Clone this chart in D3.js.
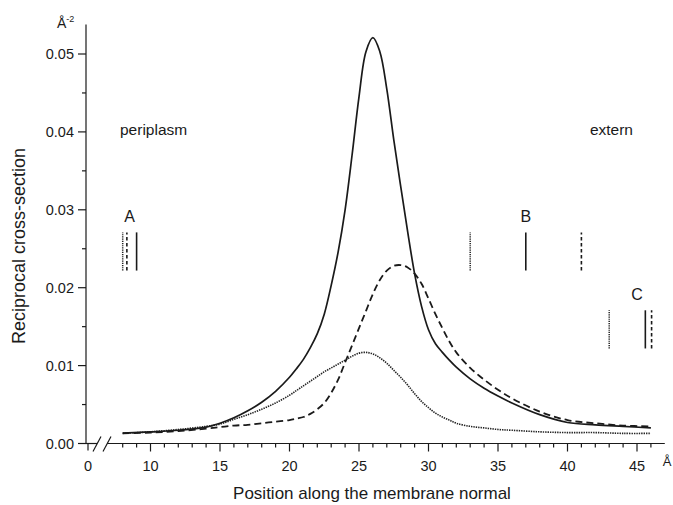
<!DOCTYPE html>
<html>
<head>
<meta charset="utf-8">
<script src="https://cdn.jsdelivr.net/npm/d3@7"></script>
<style>
  html, body { margin: 0; padding: 0; background: #fff; }
  svg { display: block; font-family: "Liberation Sans", Arial, Helvetica, sans-serif; }
</style>
</head>
<body>
<svg id="chart" width="673" height="505"></svg>
<script>
// Position along the membrane normal (Å)
const positions = [8, 10, 12, 14, 15, 16, 17, 18, 19, 20, 20.5, 21, 21.5, 22, 22.5, 23, 23.5, 24, 24.5,
  25, 25.5, 26, 26.5, 27, 27.5, 28, 28.5, 29, 29.5, 30, 30.5, 31, 31.5, 32, 33, 34, 35, 36, 38, 40,
  42, 44, 46];

// Reciprocal cross-section (Å^-2) for the three profiles
const solidProfile = [0.00135, 0.0015, 0.0017, 0.0021, 0.0026, 0.0033, 0.0042, 0.0053, 0.0067, 0.0085,
  0.0096, 0.0108, 0.0123, 0.0141, 0.0166, 0.0203, 0.0246, 0.0300, 0.0370, 0.0445, 0.0503, 0.0521,
  0.0503, 0.0455, 0.0390, 0.0330, 0.0272, 0.0218, 0.0176, 0.0146, 0.0128, 0.0117, 0.0107, 0.0098,
  0.0083, 0.0071, 0.0061, 0.0052, 0.0037, 0.0027, 0.0024, 0.0022, 0.0020];
const dashedProfile = [0.0013, 0.0014, 0.0016, 0.0019, 0.0021, 0.0023, 0.0024, 0.0026, 0.0028, 0.0030,
  0.0032, 0.0034, 0.0038, 0.0044, 0.0052, 0.0065, 0.0082, 0.0104, 0.0126, 0.0148, 0.0170, 0.0192,
  0.0210, 0.0222, 0.0228, 0.0229, 0.0226, 0.0218, 0.0205, 0.0186, 0.0166, 0.0148, 0.0131, 0.0117,
  0.0097, 0.0082, 0.0069, 0.0058, 0.0041, 0.0030, 0.0026, 0.0023, 0.0022];
const dottedProfile = [0.0013, 0.0015, 0.0018, 0.0022, 0.0025, 0.0031, 0.0037, 0.0044, 0.0052, 0.0062,
  0.0068, 0.0074, 0.0080, 0.0086, 0.0092, 0.0097, 0.0102, 0.0107, 0.0112, 0.0116, 0.0117, 0.0115,
  0.0110, 0.0103, 0.0094, 0.0085, 0.0075, 0.0064, 0.0054, 0.0046, 0.0039, 0.0034, 0.0030, 0.0026,
  0.0022, 0.0020, 0.0018, 0.0017, 0.0015, 0.0014, 0.0014, 0.0013, 0.0013];

// Reference markers A, B, C (positions in Å, extent in Å^-2)
const markerLabels = ["A", "B", "C"];
const markerSolid = [9.0, 37.0, 45.6];
const markerDashed = [8.3, 41.0, 46.05];
const markerDotted = [8.0, 33.0, 43.0];
const markerLow = [0.0222, 0.0222, 0.0122];
const markerHigh = [0.0271, 0.0271, 0.0171];
const markerLabelX = [8.5, 37.0, 45.0];
const markerLabelY = [0.0284, 0.0284, 0.0184];

// Axis ticks
const xMajorTicks = [10, 15, 20, 25, 30, 35, 40, 45];
const xMinorTicks = [8, 9, 11, 12, 13, 14, 16, 17, 18, 19, 21, 22, 23, 24, 26, 27, 28, 29, 31, 32, 33, 34,
  36, 37, 38, 39, 41, 42, 43, 44, 46];
const yMajorTicks = [0, 0.01, 0.02, 0.03, 0.04, 0.05];
const yMinorTicks = [0.005, 0.015, 0.025, 0.035, 0.045];

const svg = d3.select("#chart");
const ink = "#1a1a1a";

// Broken x axis: 0 sits at the y axis, the continuous part starts near 7 Å
const x = d3.scaleLinear().domain([0, 7, 47]).range([88, 108.8, 664.8]);
const y = d3.scaleLinear().domain([0, 0.05]).range([443.5, 54]);

const axisX0 = 86;      // y axis position
const axisY0 = y(0);

// ---- y axis
const gy = svg.append("g").attr("stroke", ink).attr("stroke-width", 1.2);
gy.append("line").attr("x1", axisX0).attr("x2", axisX0).attr("y1", axisY0 + 0.5).attr("y2", y(0.0538));
gy.selectAll(".ymaj").data(yMajorTicks).join("line")
  .attr("x1", axisX0 - 8).attr("x2", axisX0).attr("y1", d => y(d)).attr("y2", d => y(d));
gy.selectAll(".ymin").data(yMinorTicks).join("line")
  .attr("x1", axisX0 - 4).attr("x2", axisX0).attr("y1", d => y(d)).attr("y2", d => y(d));
svg.append("g").selectAll("text").data(yMajorTicks).join("text")
  .attr("x", axisX0 - 12).attr("y", d => y(d)).attr("dy", "0.36em")
  .attr("text-anchor", "end").attr("font-size", 14.5).attr("fill", ink)
  .text(d => d3.format(".2f")(d));

// ---- x axis with break
const gx = svg.append("g").attr("stroke", ink).attr("stroke-width", 1.2);
gx.append("line").attr("x1", axisX0).attr("x2", 97).attr("y1", axisY0).attr("y2", axisY0);
gx.append("line").attr("x1", 107).attr("x2", x(47)).attr("y1", axisY0).attr("y2", axisY0);
[97, 107].forEach(bx => {
  gx.append("line").attr("x1", bx - 4).attr("y1", axisY0 + 8).attr("x2", bx + 4).attr("y2", axisY0 - 7);
});
gx.append("line").attr("x1", x(0)).attr("x2", x(0)).attr("y1", axisY0).attr("y2", axisY0 + 7);
gx.selectAll(".xmaj").data(xMajorTicks).join("line")
  .attr("x1", d => x(d)).attr("x2", d => x(d)).attr("y1", axisY0).attr("y2", axisY0 + 8);
gx.selectAll(".xmin").data(xMinorTicks).join("line")
  .attr("x1", d => x(d)).attr("x2", d => x(d)).attr("y1", axisY0).attr("y2", axisY0 + 4);
svg.append("g").selectAll("text").data([0].concat(xMajorTicks)).join("text")
  .attr("x", d => x(d)).attr("y", axisY0 + 27)
  .attr("text-anchor", "middle").attr("font-size", 14.5).attr("fill", ink)
  .text(d => d);
svg.append("text").attr("x", 667).attr("y", axisY0 + 22).attr("text-anchor", "middle")
  .attr("font-size", 13).attr("fill", ink).text("Å");

// unit label on the y axis
const unit = svg.append("text").attr("x", 57).attr("y", 28).attr("font-size", 14).attr("fill", ink);
unit.append("tspan").text("Å");
unit.append("tspan").attr("font-size", 9).attr("dy", -6).text("-2");

// axis titles
svg.append("text").attr("x", 372).attr("y", 499).attr("text-anchor", "middle")
  .attr("font-size", 17).attr("fill", ink).text("Position along the membrane normal");
svg.append("text").attr("transform", "translate(25,246) rotate(-90)").attr("text-anchor", "middle")
  .attr("font-size", 18).attr("fill", ink).text("Reciprocal cross-section");

// region names
svg.append("text").attr("x", 120).attr("y", 135).attr("font-size", 15.5).attr("fill", ink).text("periplasm");
svg.append("text").attr("x", 633).attr("y", 135).attr("text-anchor", "end")
  .attr("font-size", 15.5).attr("fill", ink).text("extern");

// ---- profiles
const line = (vals) => d3.line()
  .x((d, i) => x(positions[i]))
  .y(d => y(d))
  .curve(d3.curveCatmullRom.alpha(0.5))(vals);

svg.append("path").attr("d", line(dottedProfile)).attr("fill", "none")
  .attr("stroke", "#222").attr("stroke-width", 1.6).attr("stroke-dasharray", "1.4,1");
svg.append("path").attr("d", line(dashedProfile)).attr("fill", "none")
  .attr("stroke", ink).attr("stroke-width", 1.8).attr("stroke-dasharray", "7,4");
svg.append("path").attr("d", line(solidProfile)).attr("fill", "none")
  .attr("stroke", ink).attr("stroke-width", 1.7);

// ---- markers
const gm = svg.append("g");
markerLabels.forEach((lab, i) => {
  const seg = (pos, dash, width, color) => gm.append("line")
    .attr("x1", x(pos)).attr("x2", x(pos))
    .attr("y1", y(markerLow[i])).attr("y2", y(markerHigh[i]))
    .attr("stroke", color).attr("stroke-width", width)
    .attr("stroke-dasharray", dash);
  seg(markerDotted[i], "1.2,1", 1.5, "#222");
  seg(markerDashed[i], "3.5,2.5", 1.6, ink);
  seg(markerSolid[i], null, 1.6, ink);
  gm.append("text").attr("x", x(markerLabelX[i])).attr("y", y(markerLabelY[i]))
    .attr("text-anchor", "middle").attr("font-size", 16).attr("fill", ink).text(lab);
});
</script>
</body>
</html>
